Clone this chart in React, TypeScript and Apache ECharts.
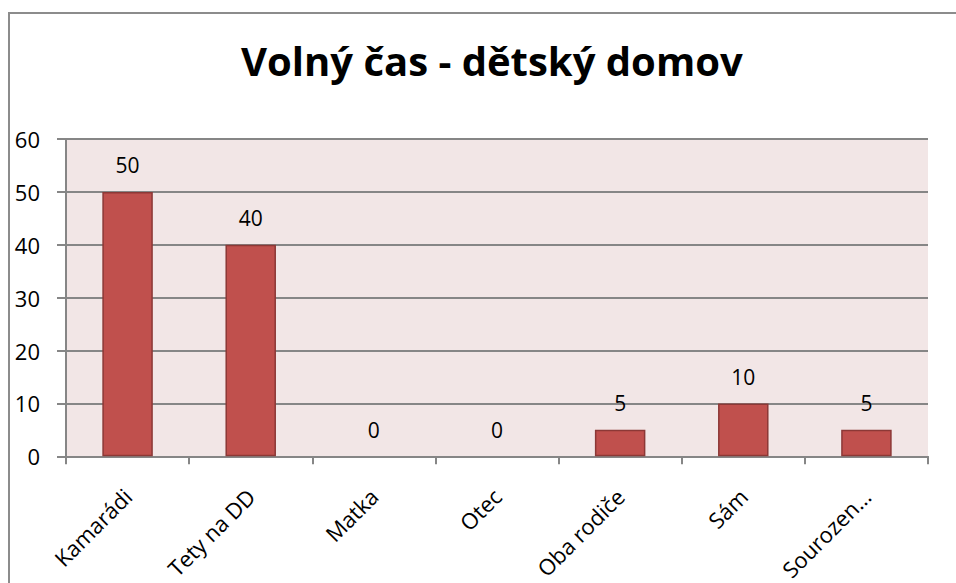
import React, { useEffect, useRef } from "react";
import * as echarts from "echarts";

const categories = ["Kamarádi", "Tety na DD", "Matka", "Otec", "Oba rodiče", "Sám", "Sourozen…"];
const values = [50, 40, 0, 0, 5, 10, 5];
const yTicks = { min: 0, max: 60, interval: 10 };
const titleText = "Volný čas - dětský domov";

const FONT = "'Open Sans', 'Noto Sans', sans-serif";

export default function App() {
  const ref = useRef<HTMLDivElement>(null);
  useEffect(() => {
    if (!ref.current) return;
    const chart = echarts.init(ref.current, null, { renderer: "svg" });
    chart.setOption({
      animation: false,
      backgroundColor: "#ffffff",
      title: {
        text: titleText,
        left: 236,
        top: 35,
        textStyle: { fontFamily: FONT, fontSize: 40, fontWeight: "bold", color: "#000" },
      },
      graphic: [
        {
          type: "rect",
          shape: { x: 9, y: 13, width: 1100, height: 800 },
          style: { fill: "none", stroke: "#8c8c8c", lineWidth: 2 },
          silent: true,
        },
      ],
      grid: { left: 66, right: 28, top: 139, bottom: 126, show: true, backgroundColor: "#f2e6e6", borderWidth: 0 },
      xAxis: {
        type: "category",
        data: categories,
        axisLine: { lineStyle: { color: "#868686", width: 2 } },
        axisTick: { show: true, length: 8, lineStyle: { color: "#868686", width: 2 } },
        axisLabel: { rotate: 45, margin: 36, color: "#000", fontFamily: FONT, fontSize: 22, interval: 0 },
      },
      yAxis: {
        type: "value",
        min: yTicks.min,
        max: yTicks.max,
        interval: yTicks.interval,
        axisLine: { show: true, lineStyle: { color: "#868686", width: 2 } },
        axisTick: { show: true, length: 9, lineStyle: { color: "#868686", width: 2 } },
        axisLabel: { margin: 26, color: "#000", fontFamily: FONT, fontSize: 22 },
        splitLine: { lineStyle: { color: "#868686", width: 2 } },
      },
      series: [
        {
          type: "bar",
          data: values.map((v) => ({
            value: v,
            itemStyle: v === 0 ? { borderWidth: 0, color: "rgba(0,0,0,0)" } : undefined,
          })),
          barWidth: "41%",
          itemStyle: { color: "#c0504d", borderColor: "#8c3836", borderWidth: 1.5 },
          label: {
            show: true,
            position: "top",
            distance: 16,
            color: "#000",
            fontFamily: FONT,
            fontSize: 21,
          },
        },
      ],
    });
    return () => chart.dispose();
  }, []);
  return (
    <div
      ref={ref}
      style={{ position: "absolute", left: 0, top: 0, width: 956, height: 583 }}
    />
  );
}
